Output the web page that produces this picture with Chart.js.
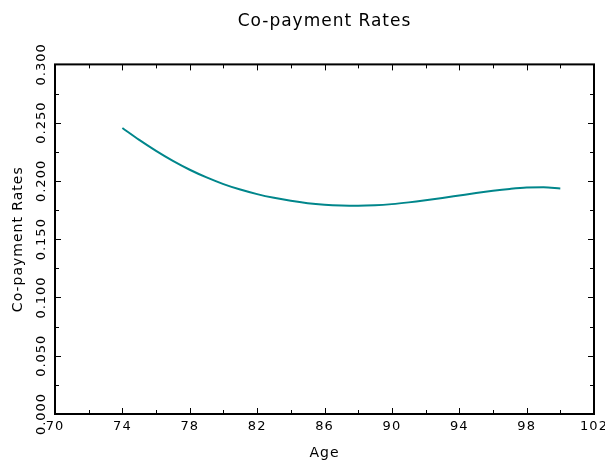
<!DOCTYPE html>
<html lang="en">
<head>
    <meta charset="UTF-8">
    <title>Co-payment Rates</title>
    <script src="https://cdn.jsdelivr.net/npm/chart.js"></script>
    <style>
        body { margin: 0; padding: 0; background: white; }
        #wrap { width: 605px; height: 460px; }
    </style>
</head>
<body>
    <div id="wrap"><canvas id="rateChart" width="605" height="460"></canvas></div>

    <script>
        // Values
        const ages = [74, 75, 76, 77, 78, 79, 80, 81, 82, 83, 84, 85, 86, 87,
                      88, 89, 90, 91, 92, 93, 94, 95, 96, 97, 98, 99, 100];
        const rates = [0.2454, 0.2352, 0.2258, 0.2172, 0.2096, 0.2030, 0.1973, 0.1926, 0.1887,
                       0.1855, 0.1829, 0.1809, 0.1796, 0.1789, 0.1787, 0.1791, 0.1801, 0.1816,
                       0.1834, 0.1854, 0.1875, 0.1896, 0.1915, 0.1931, 0.1943, 0.1946, 0.1935];
        const xTickLabels = ['70', '74', '78', '82', '86', '90', '94', '98', '102'];
        const yTickLabels = ['0.000', '0.050', '0.100', '0.150', '0.200', '0.250', '0.300'];
        const xMinorTicks = [70, 72, 74, 76, 78, 80, 82, 84, 86, 88, 90, 92, 94, 96, 98, 100, 102];
        const yMinorTicks = [0, 0.025, 0.05, 0.075, 0.1, 0.125, 0.15, 0.175, 0.2, 0.225, 0.25, 0.275, 0.3];

        const fontFamily = '"DejaVu Sans", sans-serif';

        // letter spacing like the original plot
        const spacing = {
            id: 'spacing',
            beforeUpdate(chart) { chart.ctx.letterSpacing = '1px'; },
            beforeDraw(chart) { chart.ctx.letterSpacing = '1px'; }
        };

        // frame round the plot, ticks pointing inwards on all four sides
        const frame = {
            id: 'frame',
            afterDraw(chart) {
                const { ctx, chartArea: a, scales: { x, y } } = chart;
                ctx.save();
                ctx.strokeStyle = '#000';
                ctx.lineWidth = 1;
                ctx.beginPath();
                xMinorTicks.forEach(v => {
                    const px = Math.round(x.getPixelForValue(v)) + 0.5;
                    const len = xTickLabels.includes(String(v)) ? 6 : 4;
                    ctx.moveTo(px, a.bottom); ctx.lineTo(px, a.bottom - len);
                    ctx.moveTo(px, a.top); ctx.lineTo(px, a.top + len);
                });
                yMinorTicks.forEach((v, i) => {
                    const py = Math.round(y.getPixelForValue(v)) + 0.5;
                    const len = i % 2 === 0 ? 6 : 4;
                    ctx.moveTo(a.left, py); ctx.lineTo(a.left + len, py);
                    ctx.moveTo(a.right, py); ctx.lineTo(a.right - len, py);
                });
                ctx.stroke();
                ctx.lineWidth = 2;
                ctx.strokeRect(a.left, a.top, a.right - a.left, a.bottom - a.top);
                ctx.restore();
            }
        };

        const ctx = document.getElementById('rateChart').getContext('2d');
        new Chart(ctx, {
            type: 'line',
            data: {
                datasets: [{
                    label: 'Co-payment Rates',
                    data: ages.map((a, i) => ({ x: a, y: rates[i] })),
                    borderColor: '#00868b',
                    borderWidth: 2,
                    pointRadius: 0,
                    cubicInterpolationMode: 'monotone',
                    fill: false
                }]
            },
            options: {
                responsive: false,
                animation: false,
                layout: { padding: { left: 0, right: 0, top: 0, bottom: 0 } },
                plugins: {
                    legend: { display: false },
                    tooltip: { enabled: false },
                    title: {
                        display: true,
                        fullSize: false,
                        text: 'Co-payment Rates',
                        color: '#000',
                        font: { family: fontFamily, size: 17, weight: 'normal' },
                        padding: { top: 11, bottom: 33 }
                    }
                },
                scales: {
                    x: {
                        type: 'linear',
                        min: 70,
                        max: 102,
                        grid: { display: false, drawTicks: false },
                        border: { display: false },
                        ticks: {
                            stepSize: 4,
                            padding: 5,
                            color: '#000',
                            maxRotation: 0,
                            font: { family: fontFamily, size: 13 },
                            callback: (v) => xTickLabels.includes(String(v)) ? String(v) : ''
                        },
                        title: {
                            display: true,
                            text: 'Age',
                            color: '#000',
                            font: { family: fontFamily, size: 14 },
                            padding: { top: 0, bottom: -2 }
                        },
                        afterFit(s) { s.height = 46; s.paddingRight = 11; }
                    },
                    y: {
                        min: 0,
                        max: 0.3,
                        grid: { display: false, drawTicks: false },
                        border: { display: false },
                        ticks: {
                            stepSize: 0.05,
                            minRotation: 90,
                            maxRotation: 90,
                            crossAlign: 'center',
                            padding: -8,
                            color: '#000',
                            font: { family: fontFamily, size: 13 },
                            callback: (v) => yTickLabels[Math.round(v / 0.05)]
                        },
                        title: {
                            display: true,
                            text: 'Co-payment Rates',
                            color: '#000',
                            font: { family: fontFamily, size: 14 },
                            padding: { top: 10, bottom: 0 }
                        },
                        afterFit(s) { s.width = 55; }
                    }
                }
            },
            plugins: [spacing, frame]
        });
    </script>
</body>
</html>
